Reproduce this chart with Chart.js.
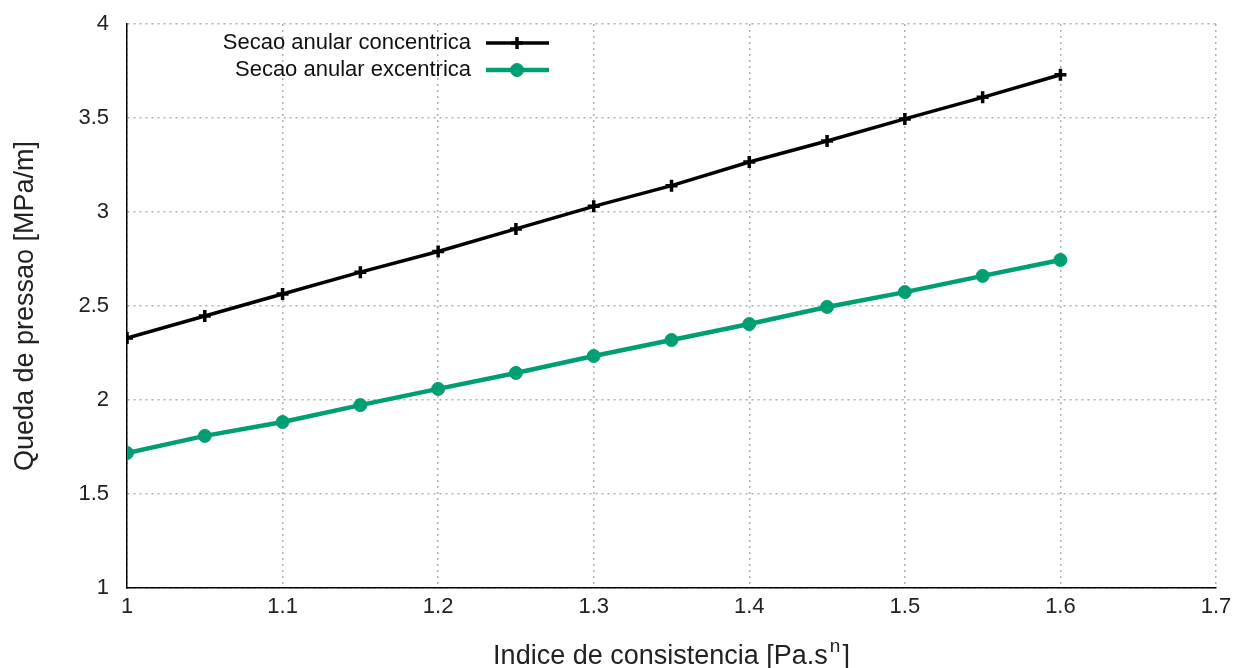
<!DOCTYPE html>
<html>
<head>
<meta charset="utf-8">
<script src="https://cdn.jsdelivr.net/npm/chart.js@4/dist/chart.umd.min.js"></script>
<style>
  html, body { margin: 0; padding: 0; background: #fff; }
  #wrap { width: 1235px; height: 668px; }
</style>
</head>
<body>
<div id="wrap"><canvas id="chart" width="1235" height="668"></canvas></div>
<script>
// data
const indice = [1, 1.05, 1.1, 1.15, 1.2, 1.25, 1.3, 1.35, 1.4, 1.45, 1.5, 1.55, 1.6];
const concentrica = [2.33, 2.447, 2.564, 2.68, 2.79, 2.91, 3.03, 3.14, 3.266, 3.378, 3.495, 3.61, 3.73];
const excentrica = [1.718, 1.809, 1.883, 1.973, 2.059, 2.144, 2.234, 2.319, 2.404, 2.495, 2.574, 2.66, 2.745];
const xTicks = [1, 1.1, 1.2, 1.3, 1.4, 1.5, 1.6, 1.7];
const yTicks = [1, 1.5, 2, 2.5, 3, 3.5, 4];

const FONT = "'Liberation Sans', Arial, sans-serif";
const GREEN = '#009e73';

function pts(ys) {
  return indice.map((x, i) => ({ x: x, y: ys[i] }));
}

const fmt = v => String(+Number(v).toFixed(2));

// legend drawn gnuplot style: text right aligned, sample to the right
const gnuLegend = {
  id: 'gnuLegend',
  afterDraw(chart) {
    const ctx = chart.ctx;
    ctx.save();
    ctx.font = '22px ' + FONT;
    ctx.textAlign = 'right';
    ctx.textBaseline = 'middle';
    chart.data.datasets.forEach((ds, i) => {
      const y = 43 + i * 27;
      ctx.fillStyle = '#111';
      ctx.fillText(ds.label, 471, y);
      ctx.strokeStyle = ds.borderColor;
      ctx.fillStyle = ds.backgroundColor;
      ctx.lineWidth = ds.borderWidth;
      ctx.beginPath();
      ctx.moveTo(486, y);
      ctx.lineTo(549, y);
      ctx.stroke();
      ctx.lineWidth = ds.pointBorderWidth;
      Chart.helpers.drawPoint(ctx, {
        pointStyle: ds.pointStyle,
        radius: ds.pointRadius,
        borderWidth: ds.pointBorderWidth
      }, 517, y);
    });
    ctx.restore();
  }
};

// x axis title with superscript n
const xTitle = {
  id: 'xTitle',
  afterDraw(chart) {
    const ctx = chart.ctx;
    const a = chart.chartArea;
    ctx.save();
    ctx.fillStyle = '#222';
    ctx.textBaseline = 'alphabetic';
    ctx.textAlign = 'left';
    const main = 'Indice de consistencia [Pa.s';
    ctx.font = '27px ' + FONT;
    const w1 = ctx.measureText(main).width;
    ctx.font = '19px ' + FONT;
    const w2 = ctx.measureText('n').width;
    ctx.font = '27px ' + FONT;
    const w3 = ctx.measureText(']').width;
    const total = w1 + w2 + 4 + w3;
    const cx = (a.left + a.right) / 2;
    let x = cx - total / 2;
    const base = 664;
    ctx.fillText(main, x, base);
    x += w1 + 2;
    ctx.font = '19px ' + FONT;
    ctx.fillText('n', x, base - 12);
    x += w2 + 2;
    ctx.font = '27px ' + FONT;
    ctx.fillText(']', x, base);
    ctx.restore();
  }
};

new Chart(document.getElementById('chart'), {
  type: 'line',
  data: {
    datasets: [
      {
        label: 'Secao anular concentrica',
        data: pts(concentrica),
        borderColor: '#000',
        backgroundColor: '#000',
        borderWidth: 3.5,
        pointStyle: 'cross',
        pointRadius: 6,
        pointBorderWidth: 3.5,
        tension: 0
      },
      {
        label: 'Secao anular excentrica',
        data: pts(excentrica),
        borderColor: GREEN,
        backgroundColor: GREEN,
        borderWidth: 4.5,
        pointStyle: 'circle',
        pointRadius: 6.5,
        pointBorderWidth: 1,
        tension: 0
      }
    ]
  },
  options: {
    responsive: false,
    animation: false,
    events: [],
    layout: { padding: { top: 24, right: 19, left: 0, bottom: 0 } },
    plugins: {
      legend: { display: false },
      tooltip: { enabled: false }
    },
    scales: {
      x: {
        type: 'linear',
        min: 1,
        max: 1.7,
        afterBuildTicks: s => { s.ticks = xTicks.map(v => ({ value: v })); },
        afterFit: s => { s.height = 80; s.paddingLeft = 0; s.paddingRight = 0; },
        ticks: { callback: fmt, color: '#222', font: { family: FONT, size: 22 }, padding: 6, maxRotation: 0 },
        grid: { color: '#b0b0b0', lineWidth: 1.5, drawTicks: false, tickLength: 0 },
        border: { color: '#000', width: 1.5, dash: [2, 4] }
      },
      y: {
        min: 1,
        max: 4,
        afterBuildTicks: s => { s.ticks = yTicks.map(v => ({ value: v })); },
        afterFit: s => { s.width = 127; s.paddingTop = 0; s.paddingBottom = 0; },
        ticks: { callback: fmt, color: '#222', font: { family: FONT, size: 22 }, padding: 18 },
        grid: { color: '#b0b0b0', lineWidth: 1.5, drawTicks: false, tickLength: 0 },
        border: { color: '#000', width: 1.5, dash: [2, 4] },
        title: {
          display: true,
          text: 'Queda de pressao [MPa/m]',
          color: '#222',
          font: { family: FONT, size: 27 },
          padding: { top: 9, bottom: 0 }
        }
      }
    }
  },
  plugins: [gnuLegend, xTitle]
});
</script>
</body>
</html>
